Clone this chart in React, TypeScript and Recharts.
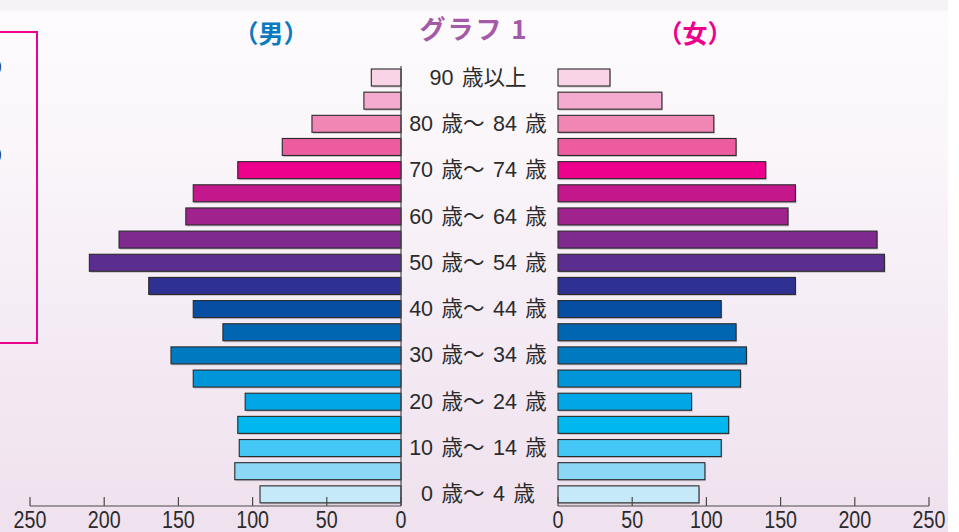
import { BarChart, Bar, XAxis, YAxis, Cell } from "recharts";

const ageGroups = [
  "90 歳以上",
  "85 歳〜 89 歳",
  "80 歳〜 84 歳",
  "75 歳〜 79 歳",
  "70 歳〜 74 歳",
  "65 歳〜 69 歳",
  "60 歳〜 64 歳",
  "55 歳〜 59 歳",
  "50 歳〜 54 歳",
  "45 歳〜 49 歳",
  "40 歳〜 44 歳",
  "35 歳〜 39 歳",
  "30 歳〜 34 歳",
  "25 歳〜 29 歳",
  "20 歳〜 24 歳",
  "15 歳〜 19 歳",
  "10 歳〜 14 歳",
  "5 歳〜 9 歳",
  "0 歳〜 4 歳",
];

const male = [20, 25, 60, 80, 110, 140, 145, 190, 210, 170, 140, 120, 155, 140, 105, 110, 109, 112, 95];
const female = [35, 70, 105, 120, 140, 160, 155, 215, 220, 160, 110, 120, 127, 123, 90, 115, 110, 99, 95];

const axisTicks = [0, 50, 100, 150, 200, 250];

const barColors = [
  "#f9d3e6", "#f5abcf", "#f086b3", "#ec5c9e", "#ec008c", "#c5178c", "#a0228d",
  "#7e2a8e", "#5b2d8e", "#2e3192", "#054ea2", "#0066b2", "#0079c1", "#0094d8",
  "#00a6e6", "#00b7ee", "#44c7f4", "#8ad7f6", "#c6e9fa",
];

const data = ageGroups.map((age, i) => ({ age, male: male[i], female: female[i] }));

const LINE = "#4a4a4a";
const TEXT = "#2b2b2b";

const NumTick = (props: any) => {
  const { x, y, payload } = props;
  return (
    <g>
      <line x1={x} y1={y} x2={x} y2={y - 9} stroke={LINE} strokeWidth={1.2} />
      <text
        x={0}
        y={0}
        transform={`translate(${x},${y + 22}) scale(0.82,1)`}
        textAnchor="middle"
        fontSize={24}
        fontFamily="'Liberation Sans', Arial, sans-serif"
        fill={TEXT}
      >
        {payload.value}
      </text>
    </g>
  );
};

const AgeTick = (props: any) => {
  const { x, y, payload, index } = props;
  if (index % 2 !== 0) return null;
  return (
    <text
      x={x + 77}
      y={y + 7}
      textAnchor="middle"
      fontSize={21.5}
      wordSpacing={2.5}
      fontFamily="'Liberation Sans', 'Noto Sans CJK JP', sans-serif"
      fill={TEXT}
    >
      {payload.value}
    </text>
  );
};

const ShadowBar = (props: any) => {
  const { x, y, width, height, fill } = props;
  const x0 = Math.min(x, x + width);
  const w = Math.abs(width);
  if (!w) return null;
  return (
    <g>
      <rect x={x0 + 1} y={y + 1.5} width={w} height={height} fill="#a8a0a8" opacity={0.6} />
      <rect x={x0} y={y} width={w} height={height} fill={fill} stroke="#2a2a2a" strokeWidth={1.1} />
    </g>
  );
};

const titleStyle = {
  position: "absolute" as const,
  transform: "translateX(-50%)",
  fontWeight: 700,
  fontFamily: "'Noto Sans CJK JP', sans-serif",
  whiteSpace: "nowrap" as const,
};

export default function App() {
  return (
    <div style={{ position: "absolute", left: 0, top: 0, width: 959, height: 532, background: "#fff", overflow: "hidden" }}>
      <div
        style={{
          position: "absolute",
          left: 0,
          top: 0,
          width: 948,
          height: 532,
          background:
            "linear-gradient(to bottom, #f5f3f5 0px, #f5f3f5 10px, #fdfbfd 12px, #faf6fa 150px, #f4ebf4 330px, #efe1ee 532px)",
        }}
      />

      {/* pink box cut off at the left edge */}
      <div
        style={{
          position: "absolute",
          left: -12,
          top: 31,
          width: 46,
          height: 309,
          border: "2.5px solid #ec008c",
        }}
      />
      <div style={{ position: "absolute", left: -9.5, top: 56, fontSize: 20, fontFamily: "'Liberation Sans', sans-serif", color: TEXT }}>0</div>
      <div style={{ position: "absolute", left: -9.5, top: 144, fontSize: 20, fontFamily: "'Liberation Sans', sans-serif", color: TEXT }}>0</div>

      {/* titles */}
      <div style={{ ...titleStyle, left: 474, top: 15, fontSize: 26, lineHeight: "26px", letterSpacing: 2, color: "#a55aa8" }}>
        グラフ 1
      </div>
      <div style={{ ...titleStyle, left: 271, top: 20, fontSize: 25, lineHeight: "25px", color: "#0a7bc1" }}>
        （男）
      </div>
      <div style={{ ...titleStyle, left: 695, top: 20, fontSize: 25, lineHeight: "25px", color: "#ec008c" }}>
        （女）
      </div>

      {/* male side */}
      <div style={{ position: "absolute", left: 0, top: 0 }}>
        <BarChart
          width={558}
          height={532}
          data={data}
          layout="vertical"
          margin={{ top: 66, right: 0, bottom: 0, left: 30 }}
          barSize={17}
        >
          <XAxis
            type="number"
            domain={[0, 250]}
            ticks={axisTicks}
            reversed
            height={26}
            tickSize={0}
            tickMargin={0}
            tickLine={false}
            axisLine={{ stroke: LINE, strokeWidth: 1.2 }}
            tick={<NumTick />}
            interval={0}
          />
          <YAxis
            type="category"
            dataKey="age"
            orientation="right"
            width={157}
            tickSize={0}
            tickMargin={0}
            tickLine={false}
            axisLine={{ stroke: LINE, strokeWidth: 1.2 }}
            tick={<AgeTick />}
            interval={0}
          />
          <Bar dataKey="male" isAnimationActive={false} shape={<ShadowBar />}>
            {data.map((d, i) => (
              <Cell key={d.age} fill={barColors[i]} />
            ))}
          </Bar>
        </BarChart>
      </div>

      {/* female side */}
      <div style={{ position: "absolute", left: 550, top: 0 }}>
        <BarChart
          width={410}
          height={532}
          data={data}
          layout="vertical"
          margin={{ top: 66, right: 31, bottom: 0, left: 8 }}
          barSize={17}
        >
          <XAxis
            type="number"
            domain={[0, 250]}
            ticks={axisTicks}
            height={26}
            tickSize={0}
            tickMargin={0}
            tickLine={false}
            axisLine={{ stroke: LINE, strokeWidth: 1.2 }}
            tick={<NumTick />}
            interval={0}
          />
          <YAxis
            type="category"
            dataKey="age"
            width={0}
            tick={false}
            tickLine={false}
            axisLine={{ stroke: LINE, strokeWidth: 1.2 }}
          />
          <Bar dataKey="female" isAnimationActive={false} shape={<ShadowBar />}>
            {data.map((d, i) => (
              <Cell key={d.age} fill={barColors[i]} />
            ))}
          </Bar>
        </BarChart>
      </div>
    </div>
  );
}
